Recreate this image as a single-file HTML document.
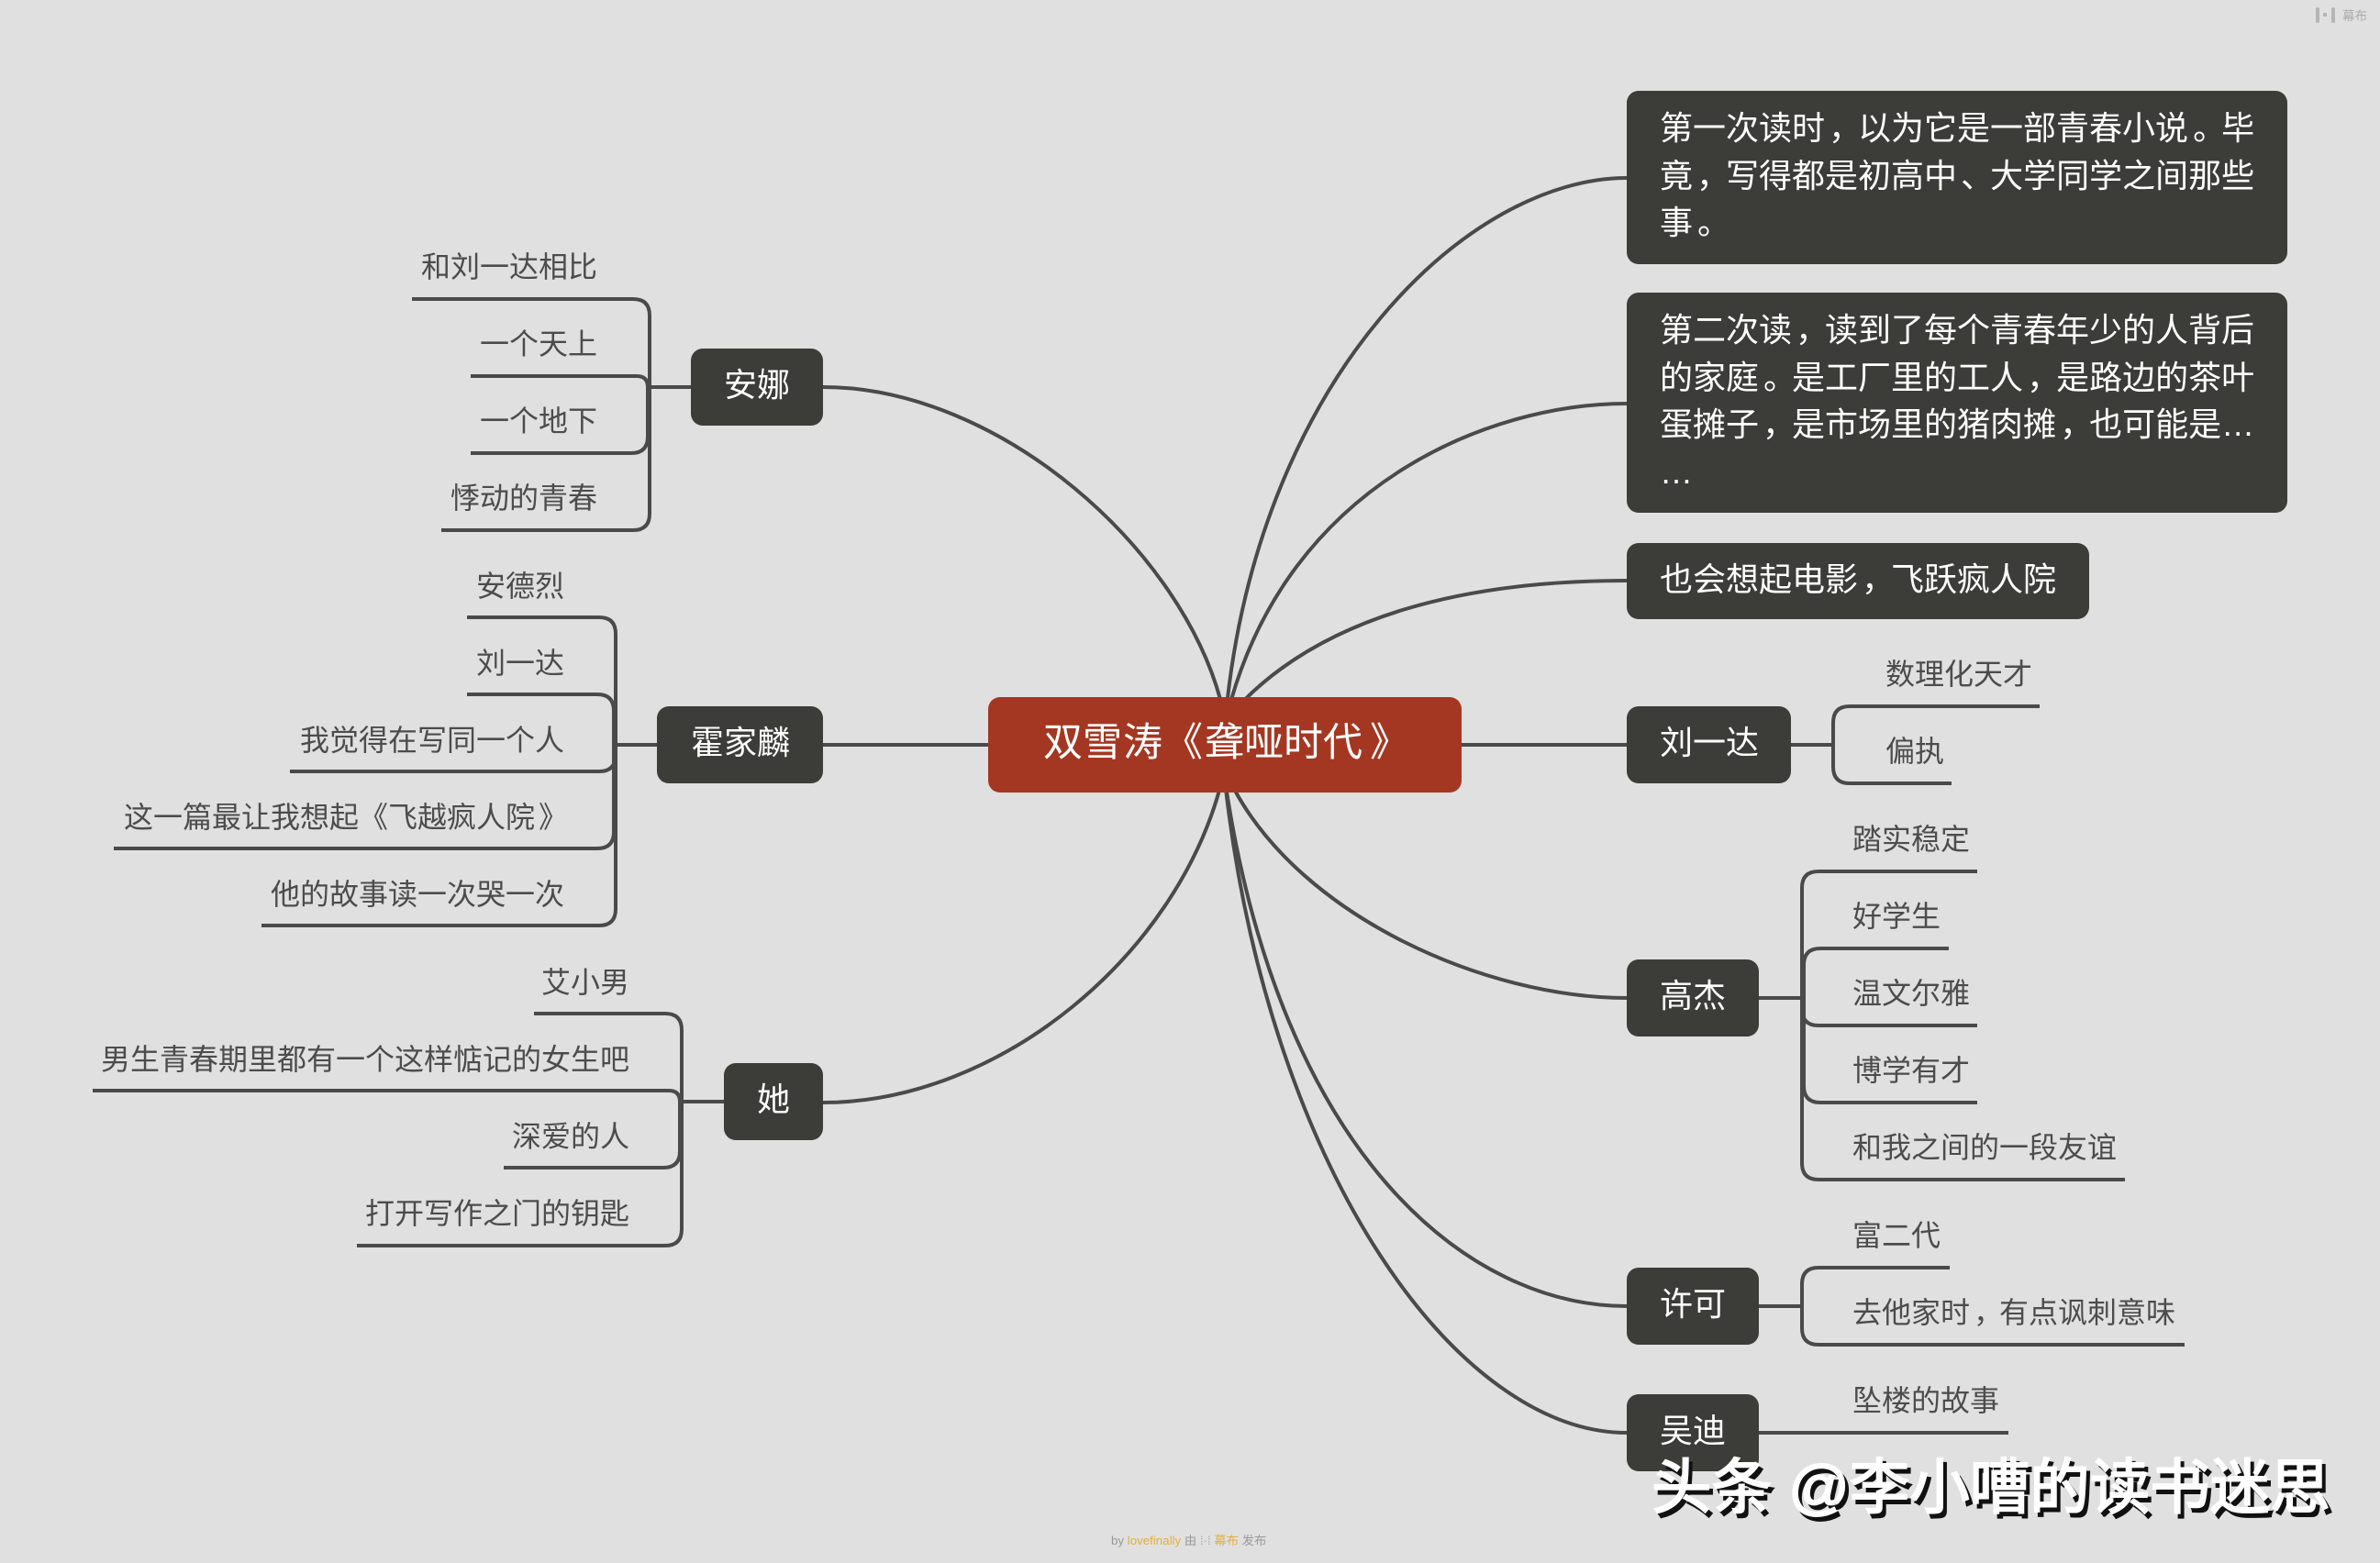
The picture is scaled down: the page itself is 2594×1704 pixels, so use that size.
<!DOCTYPE html>
<html lang="zh"><head><meta charset="utf-8"><title>双雪涛《聋哑时代》</title>
<style>
html,body{margin:0;padding:0;background:#e0e0e0}
svg{display:block}
text{font-family:"Liberation Sans","Noto Sans CJK SC",sans-serif;font-kerning:none}
.l{fill:none;stroke:#4a4a4a;stroke-width:4}
.c{fill:none;stroke:#4a4a4a;stroke-width:4}
.b{fill:#3c3c38}
.n{font-size:36px;fill:#fff}
.t{font-size:32px;fill:#4c4c4c}
.e{text-anchor:end}
</style></head>
<body>
<svg width="2594" height="1704" viewBox="0 0 2594 1704" xmlns="http://www.w3.org/2000/svg">
<rect width="2594" height="1704" fill="#e0e0e0"/>

<!-- main curves -->
<path class="c" d="M897 422C1090 422 1290 600 1332 770"/>
<path class="c" d="M897 812H1077M1593 812H1773"/>
<path class="c" d="M897 1202C1090 1202 1285 1040 1332 850"/>
<path class="c" d="M1773 194C1600 194 1375 410 1337 770"/>
<path class="c" d="M1773 440C1620 440 1405 530 1340 770"/>
<path class="c" d="M1773 633C1600 633 1440 670 1345 775"/>
<path class="c" d="M1773 1088C1620 1088 1420 1000 1345 860"/>
<path class="c" d="M1773 1424C1600 1424 1395 1260 1335 850"/>
<path class="c" d="M1773 1562C1590 1562 1385 1280 1336 860"/>

<!-- 安娜 -->
<path class="l" d="M753 422H708M708 422V344Q708 326 690 326H449M706 422V422Q706 410 694 410H513M706 422V476Q706 494 688 494H513M708 422V560Q708 578 690 578H481"/>
<!-- 霍家麟 -->
<path class="l" d="M716 812H671M671 812V691Q671 673 653 673H509M669 812V775Q669 757 651 757H509M671 812V823Q671 841 653 841H316M669 812V907Q669 925 651 925H124M671 812V991Q671 1009 653 1009H285"/>
<!-- 她 -->
<path class="l" d="M789 1201H743M743 1201V1123Q743 1105 725 1105H582M741 1201V1201Q741 1189 729 1189H101M741 1201V1255Q741 1273 723 1273H549M743 1201V1340Q743 1358 725 1358H389"/>
<!-- 刘一达 -->
<path class="l" d="M1952 812H1998M1998 812V788Q1998 770 2016 770H2223M1998 812V836Q1998 854 2016 854H2127"/>
<!-- 高杰 -->
<path class="l" d="M1917 1088H1964M1964 1088V968Q1964 950 1982 950H2155M1966 1088V1052Q1966 1034 1984 1034H2124M1964 1088V1100Q1964 1118 1982 1118H2155M1966 1088V1184Q1966 1202 1984 1202H2155M1964 1088V1268Q1964 1286 1982 1286H2316"/>
<!-- 许可 -->
<path class="l" d="M1917 1424H1964M1964 1424V1400Q1964 1382 1982 1382H2125M1964 1424V1448Q1964 1466 1982 1466H2381"/>
<!-- 吴迪 -->
<path class="l" d="M1917 1562H2189"/>

<!-- nodes -->
<rect x="1077" y="760" width="516" height="104" rx="13" fill="#a43722"/>
<text x="1137 1180 1224 1268 1313 1356 1399 1442 1493" y="824" font-size="43" fill="#fff">双雪涛《聋哑时代》</text>

<rect class="b" x="753" y="380" width="144" height="84" rx="13"/>
<text class="n" x="789" y="432">安娜</text>
<rect class="b" x="716" y="770" width="181" height="84" rx="13"/>
<text class="n" x="753" y="822">霍家麟</text>
<rect class="b" x="789" y="1159" width="108" height="84" rx="13"/>
<text class="n" x="825" y="1211">她</text>

<rect class="b" x="1773" y="99" width="720" height="189" rx="13"/>
<text class="n" x="1809" y="152">第一次读时<tspan dx="4">，</tspan><tspan dx="-4">以</tspan>为它是一部青春小说<tspan dx="5">。</tspan><tspan dx="-5">毕</tspan></text>
<text class="n" x="1809" y="204">竟<tspan dx="4">，</tspan><tspan dx="-4">写</tspan>得都是初高中<tspan dx="4">、</tspan><tspan dx="-4">大</tspan>学同学之间那些</text>
<text class="n" x="1809" y="255">事<tspan dx="5">。</tspan></text>

<rect class="b" x="1773" y="319" width="720" height="240" rx="13"/>
<text class="n" x="1809" y="372">第二次读<tspan dx="4">，</tspan><tspan dx="-4">读</tspan>到了每个青春年少的人背后</text>
<text class="n" x="1809" y="424">的家庭<tspan dx="5">。</tspan><tspan dx="-5">是</tspan>工厂里的工人<tspan dx="4">，</tspan><tspan dx="-4">是</tspan>路边的茶叶</text>
<text class="n" x="1809" y="475">蛋摊子<tspan dx="4">，</tspan><tspan dx="-4">是</tspan>市场里的猪肉摊<tspan dx="4">，</tspan><tspan dx="-4">也</tspan>可能是…</text>
<text class="n" x="1809" y="527">…</text>

<rect class="b" x="1773" y="592" width="504" height="83" rx="13"/>
<text class="n" x="1809" y="644">也会想起电影<tspan dx="4">，</tspan><tspan dx="-4">飞</tspan>跃疯人院</text>

<rect class="b" x="1773" y="770" width="179" height="84" rx="13"/>
<text class="n" x="1809" y="822">刘一达</text>
<rect class="b" x="1773" y="1046" width="144" height="84" rx="13"/>
<text class="n" x="1809" y="1098">高杰</text>
<rect class="b" x="1773" y="1382" width="144" height="84" rx="13"/>
<text class="n" x="1809" y="1434">许可</text>
<rect class="b" x="1773" y="1520" width="144" height="84" rx="13"/>
<text class="n" x="1809" y="1572">吴迪</text>

<!-- left leaves -->
<text class="t e" x="651" y="302">和刘一达相比</text>
<text class="t e" x="651" y="386">一个天上</text>
<text class="t e" x="651" y="470">一个地下</text>
<text class="t e" x="651" y="554">悸动的青春</text>

<text class="t e" x="615" y="650">安德烈</text>
<text class="t e" x="615" y="734">刘一达</text>
<text class="t e" x="615" y="818">我觉得在写同一个人</text>
<text class="t" x="135 167 199 231 263 295 327 359 391 423 455 487 519 551 587" y="902">这一篇最让我想起《飞越疯人院》</text>
<text class="t e" x="615" y="986">他的故事读一次哭一次</text>

<text class="t e" x="686" y="1082">艾小男</text>
<text class="t e" x="686" y="1166">男生青春期里都有一个这样惦记的女生吧</text>
<text class="t e" x="686" y="1250">深爱的人</text>
<text class="t e" x="686" y="1334">打开写作之门的钥匙</text>

<!-- right leaves -->
<text class="t" x="2055" y="746">数理化天才</text>
<text class="t" x="2055" y="830">偏执</text>

<text class="t" x="2019" y="926">踏实稳定</text>
<text class="t" x="2019" y="1010">好学生</text>
<text class="t" x="2019" y="1094">温文尔雅</text>
<text class="t" x="2019" y="1178">博学有才</text>
<text class="t" x="2019" y="1262">和我之间的一段友谊</text>

<text class="t" x="2019" y="1358">富二代</text>
<text class="t" x="2019" y="1442">去他家时<tspan dx="4">，</tspan><tspan dx="-4">有</tspan>点讽刺意味</text>
<text class="t" x="2019" y="1538">坠楼的故事</text>

<!-- watermark -->
<g font-size="65.5">
<text x="1804" y="1649" fill="#111" stroke="#111" stroke-width="2">头条 @李小嘈的读书迷思</text>
<text x="1800" y="1644" fill="#fff" stroke="#fff" stroke-width="2">头条 @李小嘈的读书迷思</text>
</g>

<!-- footer -->
<text x="1211" y="1684" font-size="13.3" fill="#999">by <tspan fill="#e0b040">lovefinally</tspan> 由 <tspan fill="#aaa">⁞·⁞</tspan> <tspan fill="#e0b040">幕布</tspan> 发布</text>

<!-- top right mark -->
<g fill="#b5b5b5">
<rect x="2524" y="8" width="4" height="17" rx="2"/>
<rect x="2532" y="14" width="4" height="4"/>
<rect x="2541" y="8" width="4" height="17" rx="2"/>
</g>
<text x="2553" y="22" font-size="13.5" fill="#aaa">幕布</text>
</svg>
</body></html>
